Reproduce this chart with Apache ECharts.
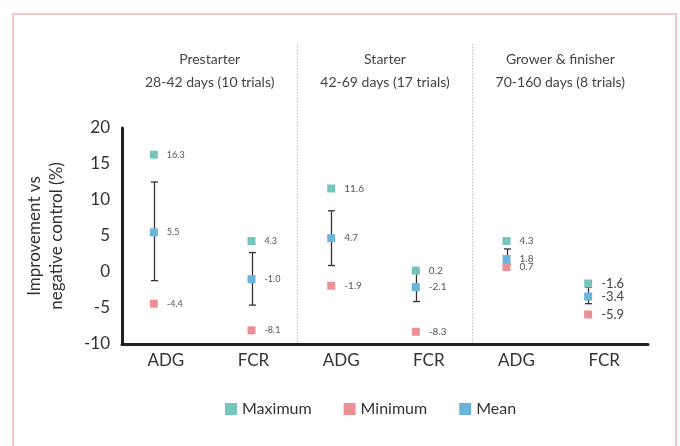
<!DOCTYPE html>
<html>
<head>
<meta charset="utf-8">
<script src="https://cdn.jsdelivr.net/npm/echarts@6/dist/echarts.min.js"></script>
<style>
html,body{margin:0;padding:0;background:#fff;}
#chart{width:680px;height:446px;}
</style>
</head>
<body>
<div id="chart"></div>
<script>
// ---- data ----
const categories = ['ADG', 'FCR', 'ADG', 'FCR', 'ADG', 'FCR'];
const groups = ['Prestarter\n28-42 days (10 trials)', 'Starter\n42-69 days (17 trials)', 'Grower & finisher\n70-160 days (8 trials)'];
const maximum = [16.3, 4.3, 11.6, 0.2, 4.3, -1.6];
const minimum = [-4.4, -8.1, -1.9, -8.3, 0.7, -5.9];
const mean = [5.5, -1.0, 4.7, -2.1, 1.8, -3.4];
const errorHigh = [12.5, 2.7, 8.5, 0.0, 3.2, -2.1];
const errorLow = [-1.2, -4.6, 0.9, -4.1, 1.1, -4.4];
const yTicks = [-10, -5, 0, 5, 10, 15, 20];

// ---- styling / layout ----
const FONT = 'Lato, "Open Sans", sans-serif';
const C_MAX = '#76c5bd', C_MIN = '#eb9195', C_MEAN = '#6ab4dc';
const xShift = [-12, -2, -10, -13, -10, -16];
const labelSize = [9, 9, 10, 10, 10, 13];
const GRID = {left: 122, right: 32, top: 128, bottom: 102};

function pts(arr) {
  return arr.map((v, i) => ({
    value: [i, v],
    symbolOffset: [xShift[i], 0],
    label: {fontSize: labelSize[i], color: i === 5 ? '#444' : '#555'}
  }));
}

const labelCfg = {
  show: true, position: 'right', distance: 9, fontFamily: FONT,
  formatter: p => p.value[1].toFixed(1)
};

const chart = echarts.init(document.getElementById('chart'), null, {renderer: 'canvas'});
const plotW = 680 - GRID.left - GRID.right;
const sepX = [GRID.left + plotW / 3, GRID.left + plotW * 2 / 3];

chart.setOption({
  animation: false,
  backgroundColor: '#fff',
  textStyle: {fontFamily: FONT},
  grid: GRID,
  legend: {
    left: 220, top: 396, itemWidth: 12, itemHeight: 12, itemGap: 32,
    icon: 'rect',
    textStyle: {fontSize: 16, color: '#333', fontFamily: FONT},
    data: ['Maximum', 'Minimum', 'Mean']
  },
  xAxis: [{
    type: 'category', data: categories, position: 'bottom',
    axisLine: {onZero: false, lineStyle: {color: '#231f20', width: 3}},
    axisTick: {show: false},
    axisLabel: {fontSize: 17, color: '#333', margin: 8, fontFamily: FONT}
  }, {
    type: 'category', data: groups, position: 'top',
    axisLine: {show: false, onZero: false}, axisTick: {show: false},
    axisLabel: {fontSize: 14, color: '#444', margin: 34, lineHeight: 23, fontFamily: FONT}
  }],
  yAxis: {
    type: 'value', min: yTicks[0], max: yTicks[yTicks.length - 1], interval: 5,
    name: 'Improvement vs\nnegative control (%)',
    nameLocation: 'middle', nameGap: 54,
    nameTextStyle: {fontSize: 17, color: '#333', lineHeight: 22, fontFamily: FONT},
    axisLine: {show: true, onZero: false, lineStyle: {color: '#231f20', width: 3}},
    axisTick: {show: false},
    splitLine: {show: false},
    axisLabel: {fontSize: 17, color: '#333', margin: 12, fontFamily: FONT}
  },
  graphic: [
    {type: 'rect', shape: {x: 13, y: 14, width: 663, height: 460}, style: {fill: 'none', stroke: '#f4b3b3', lineWidth: 1.5}, z: 0, silent: true},
    {type: 'line', shape: {x1: sepX[0], y1: 44, x2: sepX[0], y2: 343}, style: {stroke: '#bbb', lineWidth: 1, lineDash: [1.5, 1.5]}, silent: true},
    {type: 'line', shape: {x1: sepX[1], y1: 44, x2: sepX[1], y2: 343}, style: {stroke: '#bbb', lineWidth: 1, lineDash: [1.5, 1.5]}, silent: true}
  ],
  series: [
    {
      name: 'Error', type: 'custom', xAxisIndex: 0, z: 3,
      data: errorHigh.map((h, i) => [i, h, errorLow[i]]),
      renderItem: function (params, api) {
        const i = api.value(0);
        const top = api.coord([i, api.value(1)]);
        const bot = api.coord([i, api.value(2)]);
        const x = Math.round(top[0] + xShift[i]) + 0.5;
        const cap = 3.5;
        const st = {stroke: '#333', lineWidth: 1.3};
        return {type: 'group', children: [
          {type: 'line', shape: {x1: x, y1: top[1], x2: x, y2: bot[1]}, style: st},
          {type: 'line', shape: {x1: x - cap, y1: top[1], x2: x + cap, y2: top[1]}, style: st},
          {type: 'line', shape: {x1: x - cap, y1: bot[1], x2: x + cap, y2: bot[1]}, style: st}
        ]};
      }
    },
    {name: 'Maximum', type: 'scatter', symbol: 'rect', symbolSize: 8, z: 4,
      itemStyle: {color: C_MAX, opacity: 1}, label: labelCfg, data: pts(maximum)},
    {name: 'Minimum', type: 'scatter', symbol: 'rect', symbolSize: 8, z: 4,
      itemStyle: {color: C_MIN, opacity: 1}, label: labelCfg, data: pts(minimum)},
    {name: 'Mean', type: 'scatter', symbol: 'rect', symbolSize: 8, z: 5,
      itemStyle: {color: C_MEAN, opacity: 1}, label: labelCfg, data: pts(mean)}
  ]
});
</script>
</body>
</html>
